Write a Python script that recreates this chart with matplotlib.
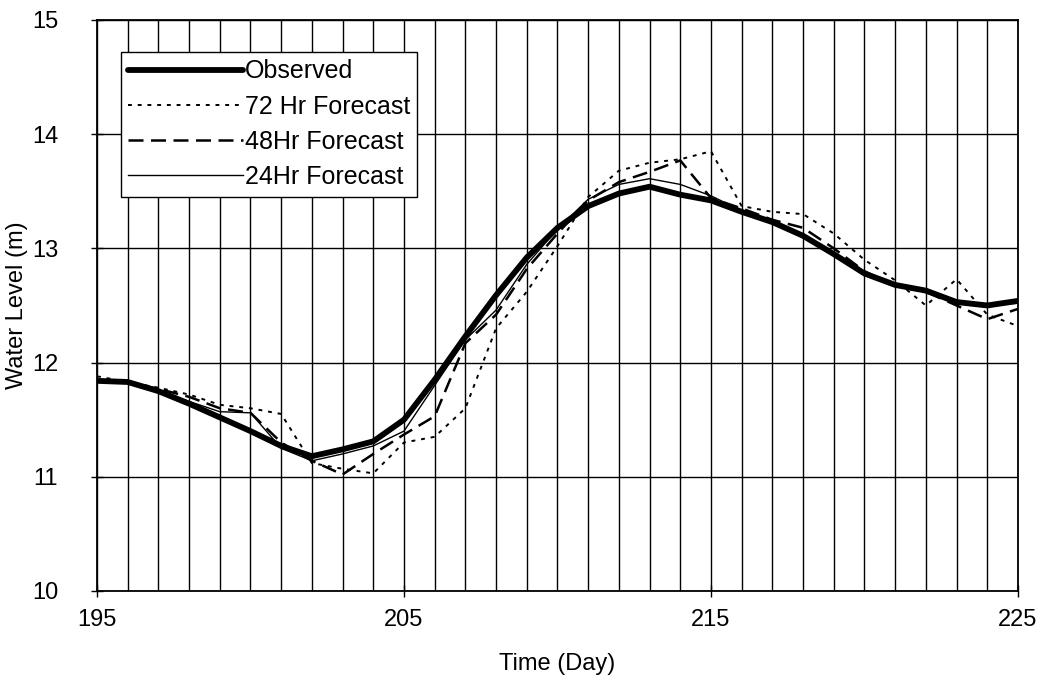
import numpy as np
import matplotlib
matplotlib.use("Agg")
import matplotlib.pyplot as plt
from matplotlib.ticker import MultipleLocator

plt.rcParams["font.family"] = ["Liberation Sans", "DejaVu Sans"]

# ===== data =====
days = list(range(195, 226))
observed = [11.84, 11.83, 11.75, 11.64, 11.52, 11.40, 11.27, 11.18, 11.24, 11.31,
            11.50, 11.85, 12.23, 12.59, 12.92, 13.18, 13.37, 13.48, 13.54, 13.47,
            13.42, 13.32, 13.23, 13.11, 12.95, 12.78, 12.68, 12.63, 12.53, 12.50,
            12.54]
fc72 = [11.88, 11.83, 11.78, 11.72, 11.63, 11.60, 11.55, 11.12, 11.07, 11.03,
        11.30, 11.35, 11.60, 12.30, 12.62, 13.02, 13.45, 13.68, 13.75, 13.78,
        13.85, 13.37, 13.32, 13.30, 13.13, 12.90, 12.72, 12.50, 12.73, 12.42,
        12.32]
fc48 = [11.84, 11.83, 11.77, 11.70, 11.60, 11.56, 11.30, 11.14, 11.02, 11.20,
        11.37, 11.53, 12.17, 12.42, 12.82, 13.13, 13.42, 13.58, 13.67, 13.77,
        13.44, 13.35, 13.25, 13.18, 13.00, 12.80, 12.67, 12.62, 12.50, 12.38,
        12.47]
fc24 = [11.84, 11.83, 11.75, 11.66, 11.57, 11.56, 11.25, 11.14, 11.20, 11.27,
        11.40, 11.80, 12.20, 12.46, 12.86, 13.17, 13.43, 13.56, 13.61, 13.56,
        13.46, 13.33, 13.24, 13.12, 12.96, 12.78, 12.68, 12.62, 12.54, 12.50,
        12.52]
xticks = [195, 205, 215, 225]

# ===== chart =====
fig = plt.figure(figsize=(10.43, 6.88), dpi=100)
ax = fig.add_axes([0.093, 0.141, 0.883, 0.830])

ax.plot(days, observed, color="black", lw=4.2, solid_capstyle="round",
        label="Observed", zorder=5)
ax.plot(days, fc72, color="black", lw=1.4, linestyle=(0, (2, 3)),
        label="72 Hr Forecast", zorder=4)
ax.plot(days, fc48, color="black", lw=1.8, linestyle=(0, (6, 3)),
        label="48Hr Forecast", zorder=4)
ax.plot(days, fc24, color="black", lw=1.0, label="24Hr Forecast", zorder=4)

ax.set_xlim(195, 225)
ax.set_ylim(10, 15)
ax.set_xticks(xticks)
ax.set_xticks(days, minor=True)
ax.yaxis.set_major_locator(MultipleLocator(1))
ax.grid(which="major", axis="y", color="black", lw=1.0)
ax.grid(which="both", axis="x", color="black", lw=1.0)
ax.tick_params(axis="both", which="major", direction="inout", length=8,
               width=1, labelsize=17)
ax.tick_params(axis="x", which="minor", length=0)
ax.tick_params(axis="x", which="major", pad=9)
ax.tick_params(axis="y", which="major", pad=24)
for s in ax.spines.values():
    s.set_linewidth(1.3)

ax.set_xlabel("Time (Day)", fontsize=17, labelpad=16)
ax.set_ylabel("Water Level (m)", fontsize=17)
ax.yaxis.set_label_coords(-0.075, 0.5)

leg = ax.legend(loc="upper left", bbox_to_anchor=(0.026, 0.944),
                borderaxespad=0, fancybox=False, framealpha=1,
                edgecolor="black", fontsize=18, handlelength=4.6,
                handletextpad=0.05, labelspacing=0.45, borderpad=0.3)
leg.get_frame().set_linewidth(1.0)

fig.savefig("out.png", dpi=100)
